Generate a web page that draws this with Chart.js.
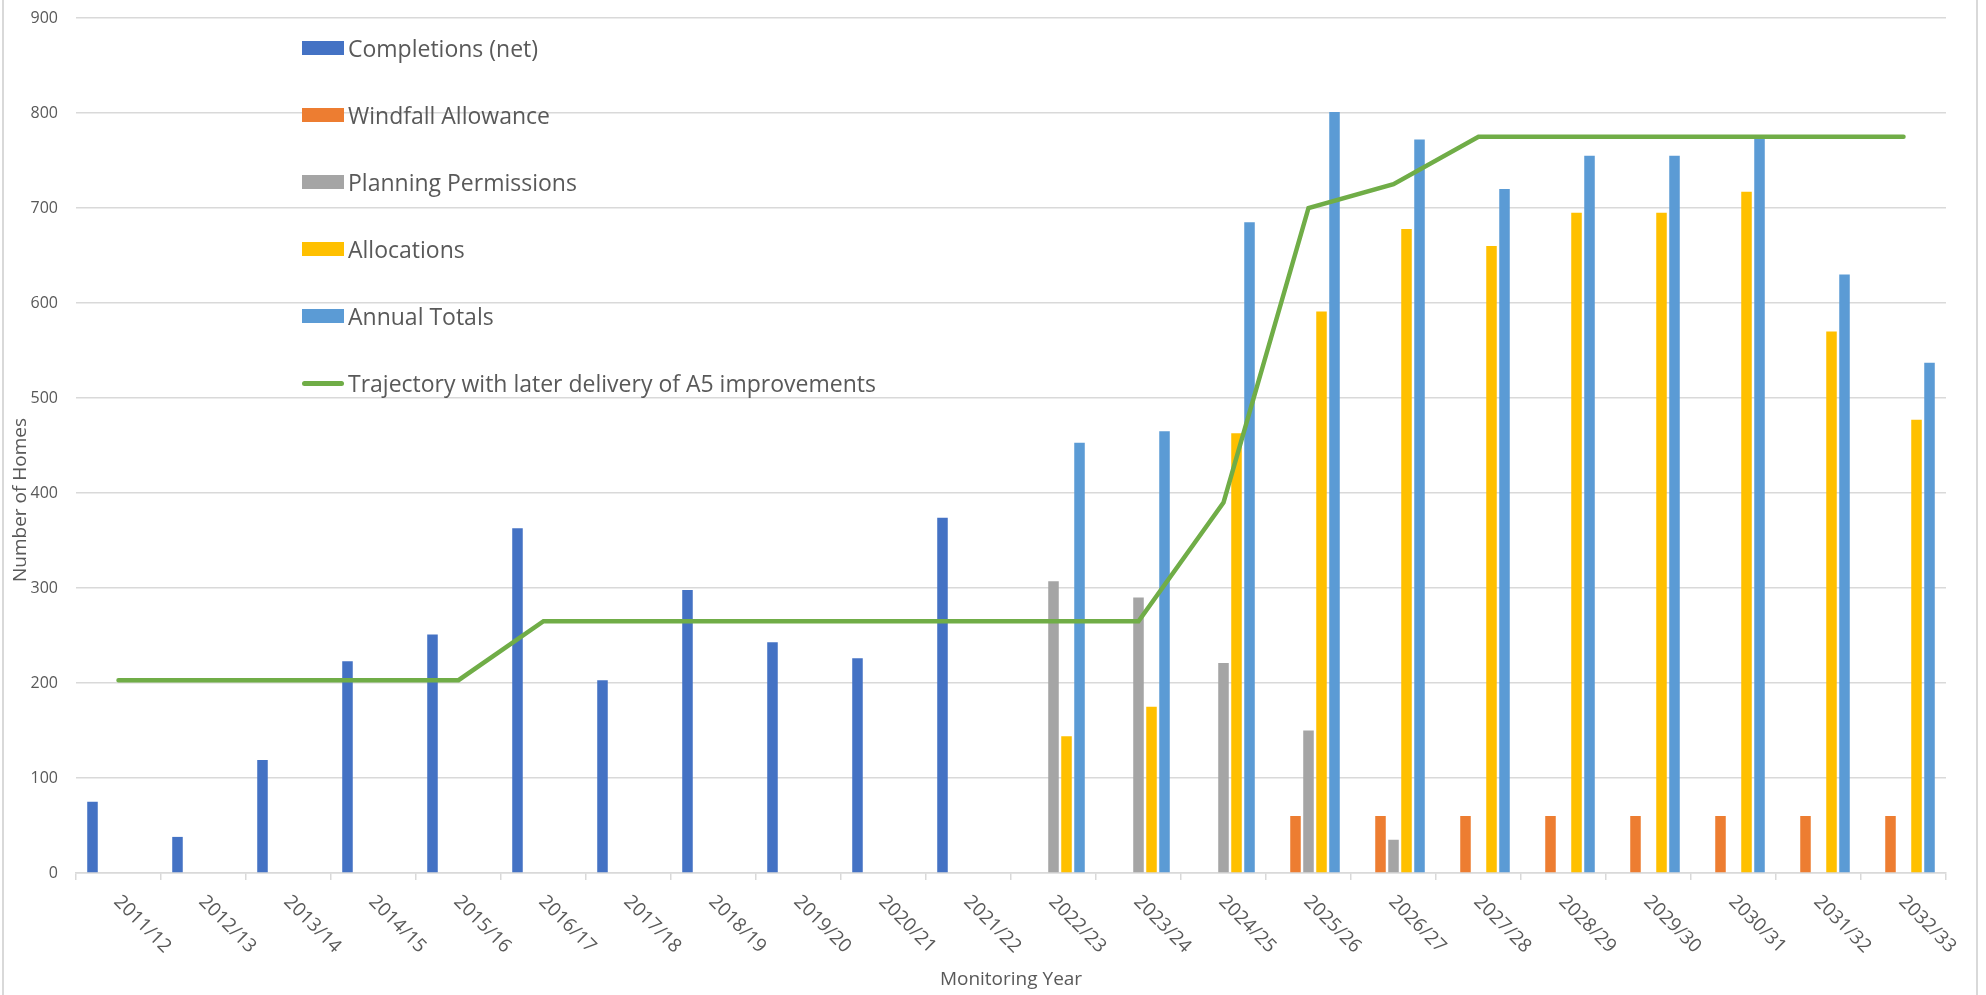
<!DOCTYPE html>
<html lang="en">
<head>
<meta charset="UTF-8">
<title>Housing Trajectory</title>
<script src="https://cdn.jsdelivr.net/npm/chart.js"></script>
<style>
  body { margin: 0; background: #fff; font-family: "Open Sans", sans-serif; }
  #wrap { position: relative; width: 1986px; height: 995px; overflow: hidden; }
  #frame {
    position: absolute; left: 2px; top: -5px; width: 1972px; height: 1010px;
    border-left: 2px solid #d9d9d9; border-right: 2px solid #d9d9d9;
    pointer-events: none;
  }
  #legend { position: absolute; left: 302px; top: 0; }
  .item {
    position: absolute; left: 0; height: 30px; white-space: nowrap;
    display: flex; align-items: center; color: #595959; font-size: 23px;
  }
  .key { width: 42px; height: 14px; margin-right: 4px; }
  .key.line { height: 5px; border-radius: 3px; }
</style>
</head>
<body>
<div id="wrap">
  <canvas id="chart" width="1986" height="995"></canvas>
  <div id="legend"></div>
  <div id="frame"></div>
</div>

<script>
const years = ['2011/12', '2012/13', '2013/14', '2014/15', '2015/16', '2016/17', '2017/18',
  '2018/19', '2019/20', '2020/21', '2021/22', '2022/23', '2023/24', '2024/25', '2025/26',
  '2026/27', '2027/28', '2028/29', '2029/30', '2030/31', '2031/32', '2032/33'];

const completions = [75, 38, 119, 223, 251, 363, 203, 298, 243, 226, 374,
  null, null, null, null, null, null, null, null, null, null, null];
const windfall = [null, null, null, null, null, null, null, null, null, null, null,
  null, null, null, 60, 60, 60, 60, 60, 60, 60, 60];
const permissions = [null, null, null, null, null, null, null, null, null, null, null,
  307, 290, 221, 150, 35, null, null, null, null, null, null];
const allocations = [null, null, null, null, null, null, null, null, null, null, null,
  144, 175, 463, 591, 678, 660, 695, 695, 717, 570, 477];
const annualTotals = [null, null, null, null, null, null, null, null, null, null, null,
  453, 465, 685, 801, 772, 720, 755, 755, 775, 630, 537];
const trajectory = [203, 203, 203, 203, 203, 265, 265, 265, 265, 265, 265,
  265, 265, 390, 700, 725, 775, 775, 775, 775, 775, 775];

const yTicks = [0, 100, 200, 300, 400, 500, 600, 700, 800, 900];

const colors = {
  completions: '#4472C4',
  windfall: '#ED7D31',
  permissions: '#A5A5A5',
  allocations: '#FFC000',
  totals: '#5B9BD5',
  trajectory: '#70AD47'
};

const legendItems = [
  { label: 'Completions (net)', color: colors.completions },
  { label: 'Windfall Allowance', color: colors.windfall },
  { label: 'Planning Permissions', color: colors.permissions },
  { label: 'Allocations', color: colors.allocations },
  { label: 'Annual Totals', color: colors.totals },
  { label: 'Trajectory with later delivery of A5 improvements', color: colors.trajectory, line: true }
];

// legend sits inside the plot, one entry per row
const legendEl = document.getElementById('legend');
legendItems.forEach((it, i) => {
  const row = document.createElement('div');
  row.className = 'item';
  row.style.top = (48 + i * 67 - 15) + 'px';
  const key = document.createElement('span');
  key.className = it.line ? 'key line' : 'key';
  key.style.background = it.color;
  row.appendChild(key);
  row.appendChild(document.createTextNode(it.label));
  legendEl.appendChild(row);
});

// x labels run down to the right, plus both axis titles
const axisText = {
  id: 'axisText',
  afterDraw(chart) {
    const { ctx, chartArea, scales: { x } } = chart;
    ctx.save();
    ctx.fillStyle = '#595959';
    ctx.font = '19px "Open Sans"';
    ctx.textAlign = 'left';
    ctx.textBaseline = 'top';
    years.forEach((lab, i) => {
      ctx.save();
      ctx.translate(x.getPixelForValue(i) + 5, chartArea.bottom + 19);
      ctx.rotate(Math.PI / 4);
      ctx.fillText(lab, 0, 0);
      ctx.restore();
    });

    ctx.textAlign = 'center';
    ctx.textBaseline = 'middle';
    ctx.fillText('Monitoring Year', (chartArea.left + chartArea.right) / 2, 980);

    ctx.translate(21, 500);
    ctx.rotate(-Math.PI / 2);
    ctx.fillText('Number of Homes', 0, 0);
    ctx.restore();
  }
};

const barDefaults = { categoryPercentage: 0.765, barPercentage: 0.81, borderWidth: 0, order: 1 };

new Chart(document.getElementById('chart'), {
  type: 'bar',
  data: {
    labels: years,
    datasets: [
      { ...barDefaults, label: 'Completions (net)', data: completions, backgroundColor: colors.completions },
      { ...barDefaults, label: 'Windfall Allowance', data: windfall, backgroundColor: colors.windfall },
      { ...barDefaults, label: 'Planning Permissions', data: permissions, backgroundColor: colors.permissions },
      { ...barDefaults, label: 'Allocations', data: allocations, backgroundColor: colors.allocations },
      { ...barDefaults, label: 'Annual Totals', data: annualTotals, backgroundColor: colors.totals },
      {
        type: 'line',
        label: 'Trajectory with later delivery of A5 improvements',
        data: trajectory,
        borderColor: colors.trajectory,
        backgroundColor: colors.trajectory,
        borderWidth: 4.5,
        pointRadius: 0,
        tension: 0,
        borderCapStyle: 'round',
        order: 0
      }
    ]
  },
  options: {
    responsive: false,
    animation: false,
    layout: { padding: { top: 18, right: 40, left: 0, bottom: 0 } },
    plugins: {
      legend: { display: false },
      title: { display: false },
      tooltip: { enabled: false }
    },
    scales: {
      x: {
        offset: true,
        ticks: { display: false },
        grid: { display: true, drawOnChartArea: false, drawTicks: true, tickLength: 7, color: '#d9d9d9', lineWidth: 1.5 },
        border: { display: true, color: '#d9d9d9', width: 1.5 },
        afterFit(scale) { scale.height = 122; }
      },
      y: {
        min: 0,
        max: 900,
        afterBuildTicks(scale) { scale.ticks = yTicks.map(v => ({ value: v })); },
        ticks: { color: '#595959', font: { family: 'Open Sans', size: 16 }, padding: 2 },
        // invisible tick marks push the labels clear of the plot
        grid: { color: '#d9d9d9', lineWidth: 1.5, drawTicks: true, tickLength: 16, tickColor: 'rgba(0,0,0,0)' },
        border: { display: false },
        afterFit(scale) { scale.width = 76; }
      }
    }
  },
  plugins: [axisText]
});
</script>
</body>
</html>
